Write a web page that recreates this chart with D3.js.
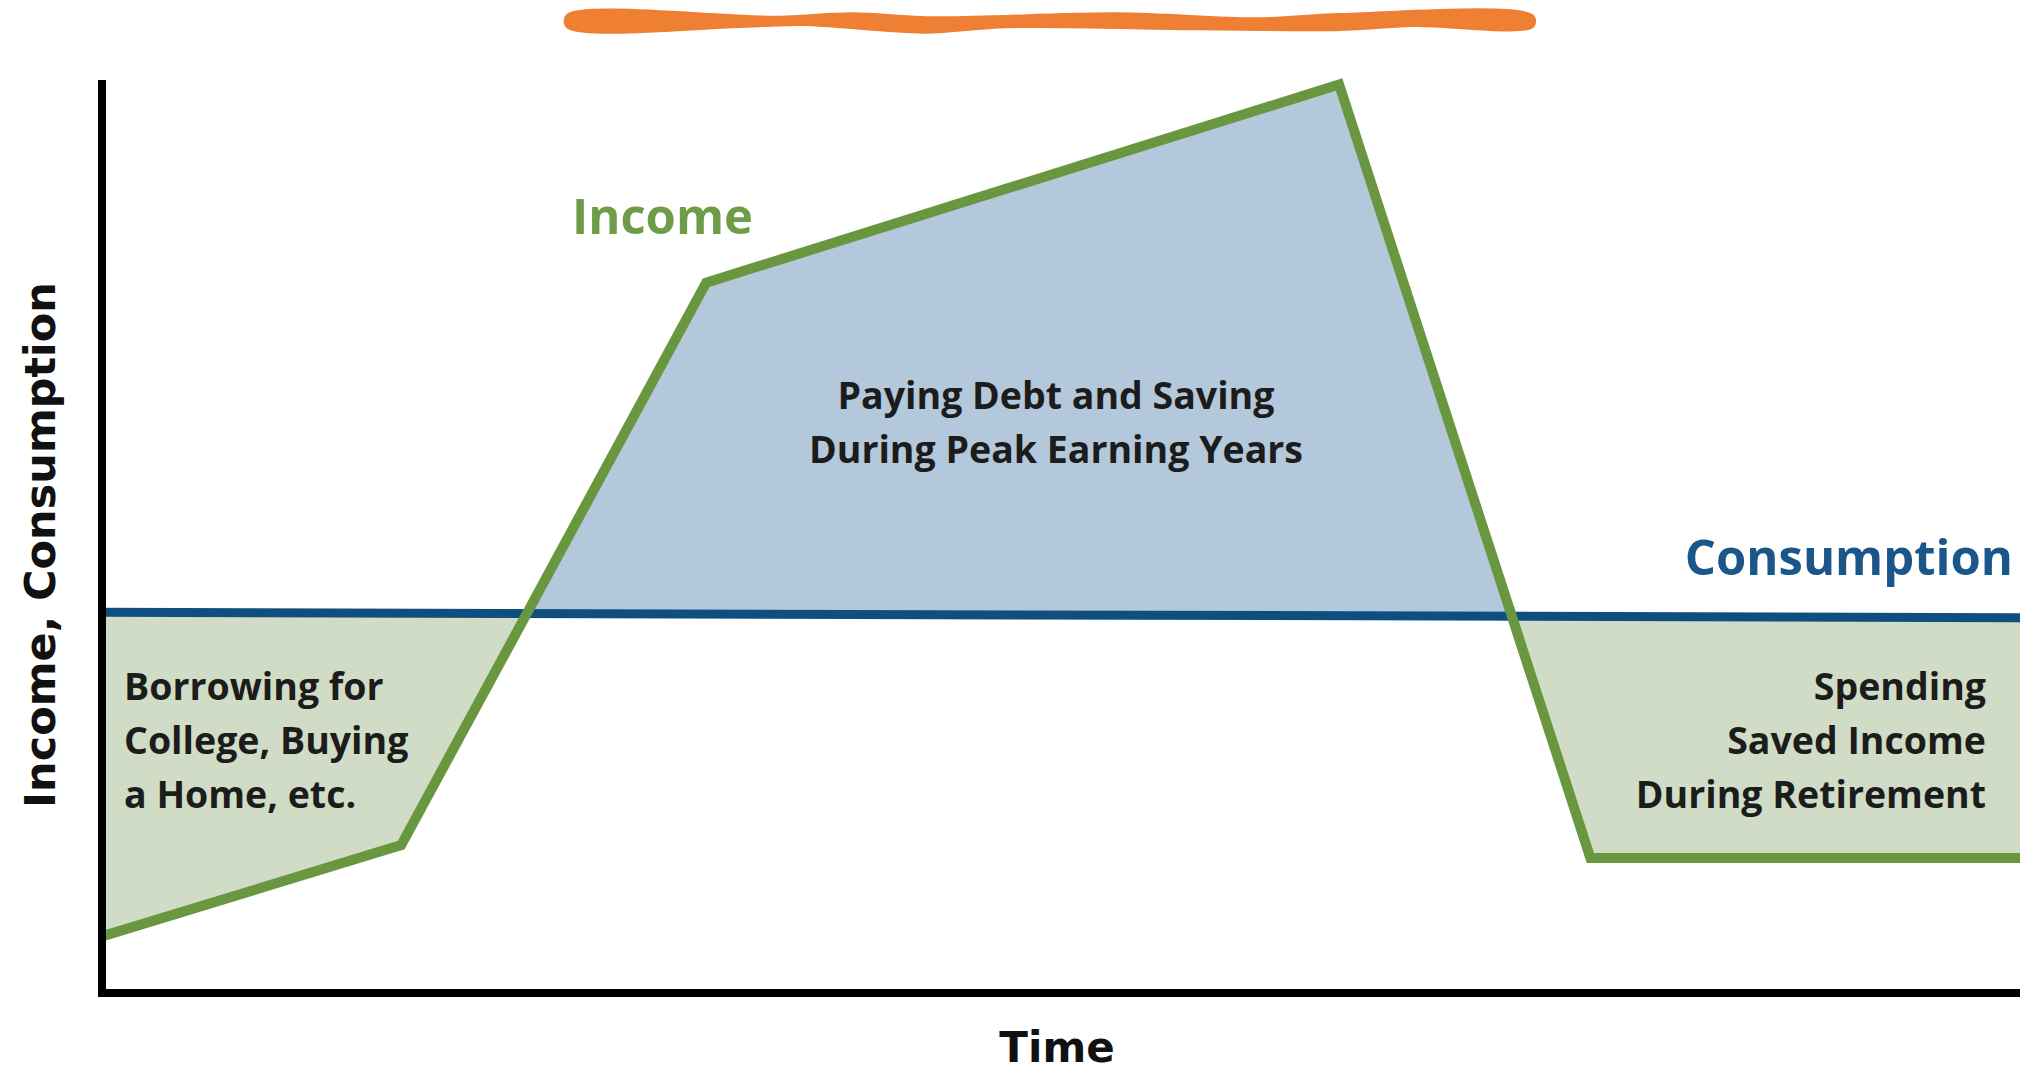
<!DOCTYPE html>
<html>
<head>
<meta charset="utf-8">
<script src="https://cdn.jsdelivr.net/npm/d3@7"></script>
<style>
  html, body { margin: 0; padding: 0; background: #ffffff; }
  svg { display: block; }
</style>
</head>
<body>
<svg id="chart" width="2020" height="1076"></svg>
<script>
// ---- data ----
const incomeTime   = [0, 15.6, 31.5, 64.5, 77.6, 100];
const incomeValue  = [6.2, 16.2, 77.8, 99.5, 14.8, 14.8];
const consumptionTime  = [0, 100];
const consumptionValue = [41.7, 41.1];

const xAxisTitle = "Time";
const yAxisTitle = "Income, Consumption";
const incomeLabel = "Income";
const consumptionLabel = "Consumption";
const borrowLines = ["Borrowing for", "College, Buying", "a Home, etc."];
const savingLines = ["Paying Debt and Saving", "During Peak Earning Years"];
const retireLines = ["Spending", "Saved Income", "During Retirement"];

// decorative brush stroke at the top (fractions along its length, edge offsets)
const brushTopPos    = [0, 0.22, 0.295, 0.38, 0.57, 0.715, 0.80, 1];
const brushTopOff    = [15, 16.7, 13.3, 17.3, 13.3, 18.3, 14, 15.7];
const brushBotPos    = [0, 0.185, 0.245, 0.37, 0.455, 0.655, 0.80, 0.875, 1];
const brushBotOff    = [27.3, 26.7, 25, 32.7, 27.3, 29.3, 30, 26, 26.7];

// ---- layout ----
const svg = d3.select("#chart");
const x = d3.scaleLinear().domain([0, 100]).range([102, 2020]);
const y = d3.scaleLinear().domain([0, 100]).range([993, 80]);

const income = incomeTime.map((t, i) => ({ t, v: incomeValue[i] }));
const consumption = consumptionTime.map((t, i) => ({ t, v: consumptionValue[i] }));

const defs = svg.append("defs");

// clip: region above the consumption line
defs.append("clipPath").attr("id", "aboveCons")
  .append("path")
  .attr("d", d3.area().x(d => x(d.t)).y0(0).y1(d => y(d.v))(consumption));

// clip: region above the income line
defs.append("clipPath").attr("id", "aboveIncome")
  .append("path")
  .attr("d", d3.area().x(d => x(d.t)).y0(0).y1(d => y(d.v))(income));

// blue fill: under income, above consumption
svg.append("path")
  .attr("clip-path", "url(#aboveCons)")
  .attr("fill", "#b3c8da")
  .attr("d", d3.area().x(d => x(d.t)).y0(y(0)).y1(d => y(d.v))(income));

// green fill: under consumption, above income
svg.append("path")
  .attr("clip-path", "url(#aboveIncome)")
  .attr("fill", "#d0dcc5")
  .attr("d", d3.area().x(d => x(d.t)).y0(y(0)).y1(d => y(d.v))(consumption));

// lines
const line = d3.line().x(d => x(d.t)).y(d => y(d.v));
svg.append("path")
  .attr("d", line(consumption))
  .attr("fill", "none")
  .attr("stroke", "#0e4f80")
  .attr("stroke-width", 9);

svg.append("path")
  .attr("d", line(income))
  .attr("fill", "none")
  .attr("stroke", "#69973f")
  .attr("stroke-width", 10)
  .attr("stroke-linejoin", "miter");

// axes (no ticks)
const xAxis = d3.axisBottom(x).ticks(0).tickSizeOuter(0);
const yAxis = d3.axisLeft(y).ticks(0).tickSizeOuter(0);
const gx = svg.append("g").attr("transform", `translate(0,${y(0)})`).call(xAxis);
const gy = svg.append("g").attr("transform", `translate(${x(0)},0)`).call(yAxis);
gx.select(".domain").attr("stroke", "#000").attr("stroke-width", 8)
  .attr("d", `M${x(0) - 4},0H${x(100)}`);
gy.select(".domain").attr("stroke", "#000").attr("stroke-width", 8)
  .attr("d", `M0,${y(0) + 4}V${y(100)}`);

// axis titles
svg.append("text")
  .attr("x", 1057).attr("y", 1062)
  .attr("text-anchor", "middle")
  .attr("font-family", "DejaVu Sans")
  .attr("font-weight", "bold")
  .attr("font-size", 42)
  .attr("fill", "#111")
  .text(xAxisTitle);

svg.append("text")
  .attr("transform", "translate(55,545) rotate(-90)")
  .attr("text-anchor", "middle")
  .attr("font-family", "DejaVu Sans")
  .attr("font-weight", "bold")
  .attr("font-size", 43)
  .attr("fill", "#111")
  .text(yAxisTitle);

// series labels
svg.append("text")
  .attr("x", 572).attr("y", 234)
  .attr("font-family", "Open Sans")
  .attr("font-weight", 700)
  .attr("font-size", 49)
  .attr("fill", "#6f9c48")
  .text(incomeLabel);

svg.append("text")
  .attr("x", 2013).attr("y", 575)
  .attr("text-anchor", "end")
  .attr("font-family", "Open Sans")
  .attr("font-weight", 700)
  .attr("font-size", 49)
  .attr("fill", "#1a5689")
  .text(consumptionLabel);

// annotations
function block(lines, xPos, y0, anchor) {
  svg.append("g").selectAll("text").data(lines).join("text")
    .attr("x", xPos)
    .attr("y", (d, i) => y0 + i * 54)
    .attr("text-anchor", anchor)
    .attr("font-family", "Open Sans")
    .attr("font-weight", 700)
    .attr("font-size", 37.5)
    .attr("fill", "#1c1c1c")
    .text(d => d);
}
block(borrowLines, 124, 700, "start");
block(savingLines, 1056, 409, "middle");
block(retireLines, 1986, 700, "end");

// decorative brush stroke
const bx = d3.scaleLinear().domain([0, 1]).range([567, 1533]);
const topPts = brushTopPos.map((p, i) => [bx(p), brushTopOff[i]]);
const botPts = brushBotPos.map((p, i) => [bx(p), brushBotOff[i]]).reverse();
const brushPath = d3.line().curve(d3.curveCatmullRomClosed)(topPts.concat(botPts));
svg.append("path")
  .attr("d", brushPath)
  .attr("fill", "#ee7f33")
  .attr("stroke", "#ee7f33")
  .attr("stroke-width", 2)
  .attr("stroke-linejoin", "round");
</script>
</body>
</html>
